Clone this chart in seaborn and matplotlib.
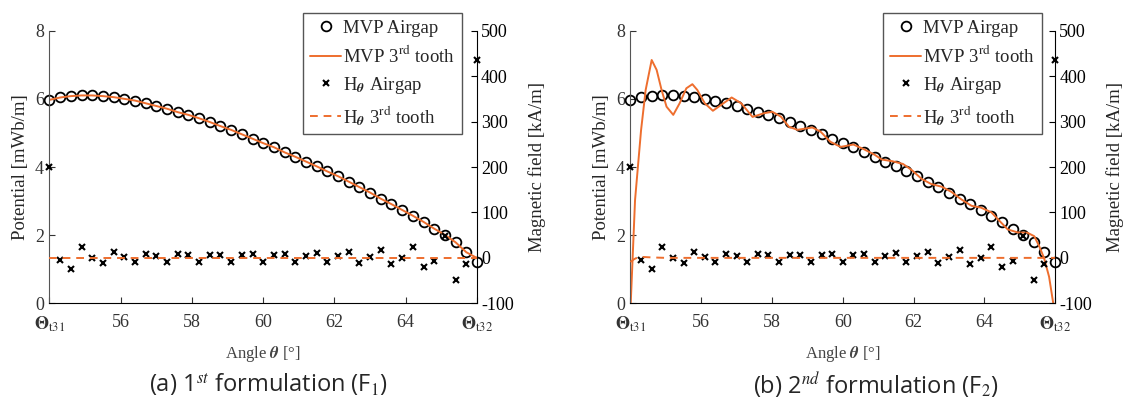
# MVP / H_theta along the tooth tip: F1 vs F2 formulation
import matplotlib
matplotlib.use("Agg")
import matplotlib.pyplot as plt
import seaborn as sns

# ---------- data ----------
# airgap sample angles [deg]
angle = [54.0, 54.3, 54.6, 54.9, 55.2, 55.5, 55.8, 56.1, 56.4, 56.7, 57.0,
         57.3, 57.6, 57.9, 58.2, 58.5, 58.8, 59.1, 59.4, 59.7, 60.0, 60.3,
         60.6, 60.9, 61.2, 61.5, 61.8, 62.1, 62.4, 62.7, 63.0, 63.3, 63.6,
         63.9, 64.2, 64.5, 64.8, 65.1, 65.4, 65.7, 66.0]

# MVP in the airgap [mWb/m] (same in both panels)
mvp_airgap = [5.97, 6.04, 6.08, 6.10, 6.10, 6.08, 6.05, 6.00, 5.95, 5.87, 5.79,
              5.71, 5.61, 5.53, 5.43, 5.32, 5.20, 5.09, 4.96, 4.83, 4.70, 4.58,
              4.43, 4.30, 4.16, 4.02, 3.87, 3.73, 3.57, 3.41, 3.25, 3.07, 2.91,
              2.74, 2.57, 2.39, 2.19, 2.00, 1.79, 1.51, 1.20]

# H_theta in the airgap [kA/m] (same in both panels)
h_airgap = [200, -4, -24, 24, 0, -12, 13, 2, -9, 9, 5,
            -8, 8, 6, -8, 7, 7, -8, 6, 8, -9, 6,
            9, -8, 4, 11, -9, 4, 13, -11, 2, 18, -14,
            -1, 25, -19, -7, 49, -48, -14, 435]

# (a) F1 : 3rd tooth
mvp_tooth_f1 = [5.97, 6.04, 6.08, 6.10, 6.10, 6.08, 6.05, 6.00, 5.95, 5.87, 5.79,
                5.71, 5.61, 5.53, 5.43, 5.32, 5.20, 5.09, 4.96, 4.83, 4.70, 4.58,
                4.43, 4.30, 4.16, 4.02, 3.87, 3.73, 3.57, 3.41, 3.25, 3.07, 2.91,
                2.74, 2.57, 2.39, 2.19, 2.01, 1.79, 1.50, 1.33]
h_tooth_f1_x = [54.0, 66.0]
h_tooth_f1 = [0, 0]

# (b) F2 : 3rd tooth (oscillating solution)
mvp_tooth_f2_x = [54.0, 54.13, 54.30, 54.43, 54.60, 54.74, 54.88, 55.02, 55.21,
                  55.39, 55.58, 55.75, 55.89, 56.10, 56.33, 56.56, 56.86, 57.13,
                  57.45, 57.78, 58.01, 58.25, 58.48, 58.72, 58.95, 59.14, 59.37,
                  59.65, 59.94, 60.30, 60.60, 60.90, 61.10, 61.40, 61.70, 61.95,
                  62.23, 62.50, 62.80, 63.07, 63.35, 63.64, 63.90, 64.20, 64.40,
                  64.66, 64.94, 65.22, 65.41, 65.55, 65.69, 65.83, 65.94, 66.0]
mvp_tooth_f2 = [-0.2, 3.03, 5.08, 6.26, 7.14, 6.85, 6.26, 5.77, 5.53,
                5.87, 6.31, 6.43, 6.26, 5.87, 5.65, 5.82, 6.04, 5.87,
                5.47, 5.58, 5.62, 5.48, 5.18, 5.09, 5.13, 5.16, 5.04,
                4.74, 4.59, 4.66, 4.52, 4.36, 4.22, 4.17, 4.09, 3.91,
                3.65, 3.50, 3.42, 3.27, 3.05, 2.86, 2.81, 2.67, 2.45,
                2.17, 2.08, 2.07, 1.97, 1.68, 1.32, 0.78, 0.05, -0.3]
h_tooth_f2_x = [54.0, 54.1, 54.2, 54.36, 54.6, 55.0, 66.0]
h_tooth_f2 = [-9, -3, 1, 2, 1, 0, 0]

xtick_pos = [54, 56, 58, 60, 62, 64, 66]
xtick_lab = [r"$\mathbf{\Theta}_{\rm t31}$", "56", "58", "60", "62", "64",
             r"$\mathbf{\Theta}_{\rm t32}$"]

ORANGE = "#EE6E2E"

sns.set_style("white")
plt.rcParams["font.family"] = ["Liberation Serif", "DejaVu Serif"]
plt.rcParams["mathtext.fontset"] = "stix"
plt.rcParams["axes.unicode_minus"] = False

fig = plt.figure(figsize=(11.27, 4.12), dpi=100)


def draw_panel(ax, tooth_x, tooth_mvp, htx, hty):
    axr = ax.twinx()

    sns.lineplot(x=angle, y=mvp_airgap, ax=ax, marker="o", linestyle="",
                 color="k", markerfacecolor="none", markeredgecolor="k",
                 markersize=7, mew=1.3, clip_on=False)
    sns.lineplot(x=tooth_x, y=tooth_mvp, ax=ax, color=ORANGE, lw=1.4)
    sns.lineplot(x=angle, y=h_airgap, ax=axr, marker="x", linestyle="",
                 color="k", markeredgecolor="k", markersize=5, mew=1.5,
                 clip_on=False)
    sns.lineplot(x=htx, y=hty, ax=axr, color=ORANGE, lw=1.4,
                 dashes=(4, 3))

    ax.set_xlim(54, 66)
    ax.set_ylim(0, 8)
    axr.set_ylim(-100, 500)
    ax.set_xticks(xtick_pos)
    ax.set_xticklabels(xtick_lab)
    ax.set_yticks([0, 2, 4, 6, 8])
    axr.set_yticks([-100, 0, 100, 200, 300, 400, 500])

    ax.set_ylabel("Potential [mWb/m]", fontsize=13.5, labelpad=4)
    axr.set_ylabel("Magnetic field [kA/m]", fontsize=13.5, labelpad=10)
    ax.set_xlabel(r"Angle $\mathbfit{\theta}$ [°]", fontsize=12,
                  color="#444444", labelpad=7)

    for a in (ax, axr):
        a.spines["top"].set_visible(False)
    ax.spines["right"].set_visible(False)
    axr.spines["left"].set_visible(False)
    axr.spines["bottom"].set_visible(False)
    ax.spines["left"].set_color("#555555")
    ax.spines["bottom"].set_color("black")
    axr.spines["right"].set_color("black")

    ax.tick_params(axis="y", direction="in", length=4, labelsize=13,
                   colors="#333333", pad=4, left=True)
    ax.tick_params(axis="x", direction="in", length=4, labelsize=13,
                   colors="#333333", pad=8, bottom=True)
    axr.tick_params(axis="y", direction="in", length=4, labelsize=13,
                    colors="black", pad=3, right=True)

    handles = [ax.lines[0], ax.lines[1], axr.lines[0], axr.lines[1]]
    for a in (ax, axr):
        if a.get_legend() is not None:
            a.get_legend().remove()
    return handles


ax_a = fig.add_axes([0.0439, 0.2638, 0.3793, 0.6617])
ax_b = fig.add_axes([0.5594, 0.2638, 0.3768, 0.6617])

h_a = draw_panel(ax_a, angle, mvp_tooth_f1, h_tooth_f1_x, h_tooth_f1)
h_b = draw_panel(ax_b, mvp_tooth_f2_x, mvp_tooth_f2, h_tooth_f2_x, h_tooth_f2)

leg_labels = ["MVP Airgap", r"MVP 3$^{\rm rd}$ tooth",
              r"H$_{\mathbfit{\theta}}$ Airgap",
              r"H$_{\mathbfit{\theta}}$ 3$^{\rm rd}$ tooth"]

for handles, x0 in ((h_a, 303 / 1127), (h_b, 883 / 1127)):
    leg = fig.legend(handles, leg_labels, loc="upper left",
                     bbox_to_anchor=(x0, 1 - 13 / 412), borderaxespad=0,
                     frameon=True, fancybox=False, framealpha=1,
                     edgecolor="#555555", fontsize=13.5, handlelength=1.7,
                     handletextpad=0.1, borderpad=0.35, labelspacing=0.45)
    leg.get_frame().set_linewidth(1.0)

fig.text(268 / 1127, 1 - 385 / 412, r"(a) 1$^{st}$ formulation (F$_1$)",
         ha="center", va="center", fontsize=17, family=["Open Sans", "DejaVu Sans"])
fig.text(876 / 1127, 1 - 385 / 412, r"(b) 2$^{nd}$ formulation (F$_2$)",
         ha="center", va="center", fontsize=17, family=["Open Sans", "DejaVu Sans"])

fig.savefig("out.png", dpi=100)
